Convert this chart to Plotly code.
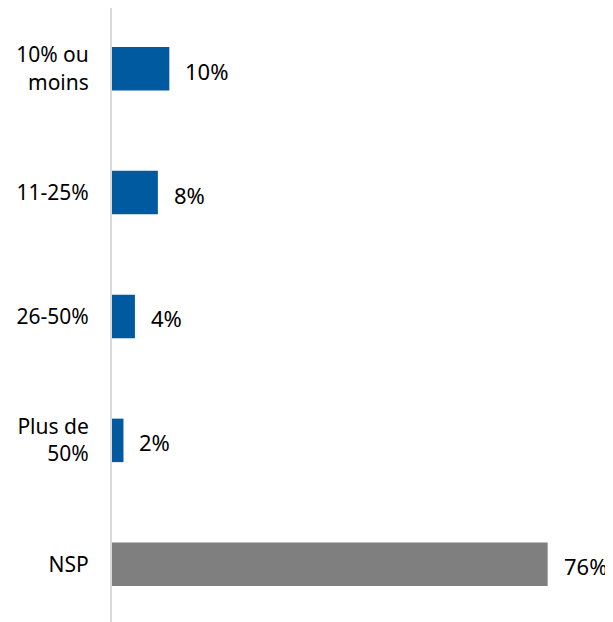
import plotly.graph_objects as go

categories = ["10% ou<br>moins", "11-25%", "26-50%", "Plus de<br>50%", "NSP"]
values = [10, 8, 4, 2, 76]
value_labels = ["10%", "8%", "4%", "2%", "76%"]
colors = ["#005AA0", "#005AA0", "#005AA0", "#005AA0", "#7F7F7F"]

font_family = "Noto Sans, Open Sans, sans-serif"

fig = go.Figure()
fig.add_trace(go.Bar(
    x=values,
    y=categories,
    orientation="h",
    marker=dict(color=colors, line=dict(width=0)),
    hoverinfo="skip",
))

for v, c, t in zip(values, categories, value_labels):
    fig.add_annotation(
        x=v, y=c, text=t, showarrow=False,
        xanchor="left", yanchor="middle", xshift=14, yshift=-2,
        font=dict(size=22, color="#000000", family=font_family),
    )

# page body has an 8px default margin, so the figure is sized to the visible area
fig.update_layout(
    width=605, height=614,
    margin=dict(l=104, r=0, t=0, b=0, autoexpand=False),
    paper_bgcolor="white", plot_bgcolor="white",
    bargap=0.649,
    showlegend=False,
    font=dict(family=font_family, size=21, color="#000000"),
)
fig.update_xaxes(
    range=[0, 87.4], visible=False, showgrid=False, zeroline=False,
    automargin=False,
)
fig.update_yaxes(
    type="category",
    range=[4.466, -0.49],
    showline=True, linecolor="#D9D9D9", linewidth=2,
    showgrid=False, zeroline=False, automargin=False,
    ticks="", ticklabelstandoff=17,
    tickfont=dict(size=21, family=font_family, color="#000000"),
)

fig.write_html("out.html")
